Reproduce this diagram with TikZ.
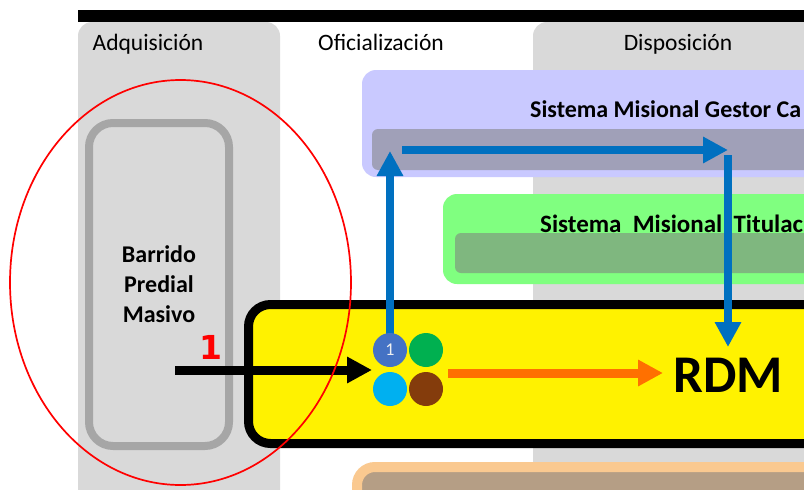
\documentclass[tikz,border=0pt]{standalone}
\usepackage{fontspec}
\setmainfont{Carlito}
\newfontfamily\dvsans{DejaVu Sans}
\usetikzlibrary{arrows.meta}
\definecolor{colgray}{HTML}{D9D9D9}
\definecolor{boxgray}{HTML}{A6A6A6}
\definecolor{lav}{HTML}{C9C9FF}
\definecolor{lavbar}{HTML}{A0A0B8}
\definecolor{grn}{HTML}{80FF80}
\definecolor{grnbar}{HTML}{7FB77F}
\definecolor{oring}{HTML}{FAC990}
\definecolor{tanfill}{HTML}{B59E85}
\definecolor{bluearr}{HTML}{0070C0}
\definecolor{orarr}{HTML}{FF7000}
\definecolor{cblue}{HTML}{4472C4}
\definecolor{cgreen}{HTML}{00B050}
\definecolor{ccyan}{HTML}{00B0F0}
\definecolor{cbrown}{HTML}{843C0C}
\begin{document}
\begin{tikzpicture}[x=1pt,y=-1pt,
  lbl/.style={anchor=base, inner sep=0, font=\fontsize{23.5}{28}\selectfont},
  systitle/.style={anchor=base west, inner sep=0, font=\bfseries\fontsize{24}{28}\selectfont},
  dot/.style={circle, inner sep=0, minimum size=34pt},
  barrow/.style={draw=bluearr, line width=8pt, -{Triangle[length=25pt,width=25pt]}},
  karrow/.style={draw=black, line width=9pt, -{Triangle[length=25pt,width=25pt]}},
  oarrow/.style={draw=orarr, line width=9pt, -{Triangle[length=25pt,width=25pt]}}]
\useasboundingbox (0,0) rectangle (804,490);
\clip (0,0) rectangle (804,490);
\fill[white] (0,0) rectangle (804,490);
% columns
\fill[colgray, rounded corners=14pt] (78,22) rectangle (280,530);
\fill[colgray, rounded corners=14pt] (533,22) rectangle (860,530);
\fill[black] (78,10) rectangle (860,21.5);
\node[lbl] (adq) at (148,50) {Adquisición};
\node[lbl] (ofi) at (381,50) {Oficialización};
\node[lbl] (dis) at (678,50) {Disposición};
% Barrido box
\node[draw=boxgray, fill=colgray, line width=8pt, rounded corners=24pt,
  minimum width=140pt, minimum height=323pt, align=center,
  font=\bfseries\fontsize{24}{30}\selectfont] (bar) at (159,284.5)
  {Barrido\\Predial\\Masivo};
% system boxes
\fill[lav, rounded corners=14pt] (362,70) rectangle (860,177);
\fill[lavbar, rounded corners=6pt] (372,129) rectangle (860,170);
\node[systitle] (gestor) at (530,117) {Sistema Misional Gestor Ca};
\fill[grn, rounded corners=14pt] (443,194) rectangle (860,284);
\fill[grnbar, rounded corners=6pt] (455,233) rectangle (860,273);
\node[systitle, font=\bfseries\fontsize{25}{28}\selectfont] (titul) at (540,232) {Sistema\ \ Misional\ \ Titulac};
% yellow and orange boxes
\draw[line width=9pt, fill=yellow, rounded corners=22pt] (248.5,304.5) rectangle (900,443.5);
\draw[draw=oring, fill=tanfill, line width=10pt, rounded corners=18pt] (357,467) rectangle (900,560);
% coordinates
\coordinate (upTip) at (390,151);
\coordinate (hStart) at (402,150);
\coordinate (hTip) at (728,150);
\coordinate (dStart) at (728,155);
\coordinate (dTip) at (728,347);
\coordinate (kStart) at (175,370);
\coordinate (kTip) at (372,370);
\coordinate (oStart) at (448,373);
\coordinate (oTip) at (663,373);
% arrows
\draw[barrow] (390,340) -- (upTip);
\draw[barrow] (hStart) -- (hTip);
\draw[barrow] (dStart) -- (dTip);
% dots
\node[dot, fill=cblue] (d1) at (390,350) {\fontsize{18}{18}\selectfont\color{white!88!gray}1};
\node[dot, fill=cgreen] (d2) at (426,350) {};
\node[dot, fill=ccyan] (d3) at (390,389) {};
\node[dot, fill=cbrown] (d4) at (426,389) {};
\draw[karrow] (kStart) -- (kTip);
\draw[oarrow] (oStart) -- (oTip);
\node[anchor=west, inner sep=0, font=\bfseries\fontsize{53}{53}\selectfont] (rdm) at (673,375) {RDM};
\node[inner sep=0, text=red, font=\dvsans\bfseries\fontsize{33}{33}\selectfont] (one) at (211,347) {1};
% red ellipse
\draw[red, line width=1.7pt] (180.5,282.5) ellipse [x radius=170.5, y radius=202.5];
\end{tikzpicture}
\end{document}
